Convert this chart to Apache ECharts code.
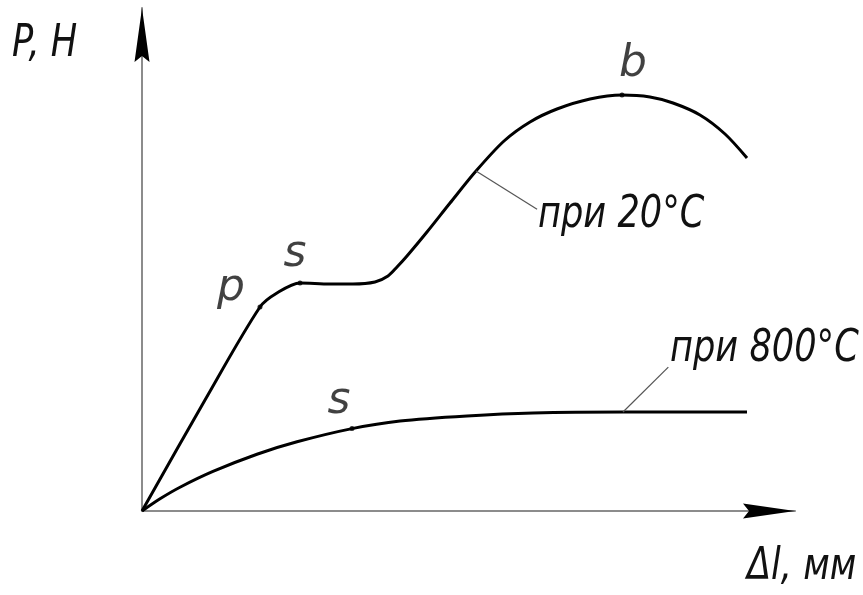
<!DOCTYPE html>
<html>
<head>
<meta charset="utf-8">
<title>P - Δl</title>
<script src="https://cdn.jsdelivr.net/npm/echarts@6/dist/echarts.min.js"></script>
<style>
  html, body { margin: 0; padding: 0; background: #fff; }
  #main { width: 863px; height: 595px; }
</style>
</head>
<body>
<div id="main"></div>
<script>
// удлинение (усл. ед.) и нагрузка (усл. ед.)
var dl20 = [0, 9.65, 18.07, 20.67, 24.2, 28.79, 32.31, 35.68, 37.67, 39.05, 40.58, 43.64, 47.17, 51.15, 55.44, 59.42, 63.55, 68.61, 73.51, 77.79, 81.32, 85.45, 89.28, 92.65];
var p20  = [0, 22.07, 40.56, 43.34, 45.33, 45.13, 45.13, 45.53, 46.72, 48.51, 50.7, 55.47, 61.23, 67.59, 73.56, 77.34, 79.92, 81.91, 82.7, 82.31, 81.11, 78.73, 74.95, 70.18];

var dl800 = [0, 2.76, 5.82, 10.87, 17.61, 23.74, 32.16, 39.51, 49.77, 59.88, 73.66, 92.65];
var p800  = [0, 2.43, 4.73, 7.87, 11.29, 13.76, 16.38, 17.89, 18.89, 19.48, 19.68, 19.68];

// характерные точки: p, s, b (20°C) и s (800°C)
var keyNames = ['p', 's', 'b', 's'];
var keyDl = [18.07, 24.2, 73.51, 32.16];
var keyP  = [40.56, 45.33, 82.7, 16.38];

var FONT = '"DejaVu Sans", sans-serif';

function pairs(xs, ys) {
  var out = [];
  for (var i = 0; i < xs.length; i++) out.push([xs[i], ys[i]]);
  return out;
}

var labelOffsets = [[-29, -18], [-5, -28], [11, -30], [-13, -27]];
var keyData = [];
for (var i = 0; i < keyNames.length; i++) {
  keyData.push({
    name: keyNames[i],
    value: [keyDl[i], keyP[i]],
    label: { offset: labelOffsets[i] }
  });
}

var chart = echarts.init(document.getElementById('main'));

var option = {
  animation: false,
  backgroundColor: '#fff',
  grid: { left: 142, right: 68, top: 8, bottom: 84 },
  xAxis: {
    type: 'value', min: 0, max: 100,
    axisLine: { show: true, lineStyle: { color: '#8c8c8c', width: 2 } },
    axisTick: { show: false }, axisLabel: { show: false }, splitLine: { show: false }
  },
  yAxis: {
    type: 'value', min: 0, max: 100,
    axisLine: { show: true, lineStyle: { color: '#8c8c8c', width: 2 } },
    axisTick: { show: false }, axisLabel: { show: false }, splitLine: { show: false }
  },
  series: [
    {
      name: 'при 20°C', type: 'line', smooth: 0.3, showSymbol: false,
      lineStyle: { color: '#000', width: 3 },
      data: pairs(dl20, p20),
      markLine: {
        silent: true, symbol: 'none', label: { show: false },
        lineStyle: { color: '#555', width: 1.2, type: 'solid' },
        data: [[{ coord: [51.15, 67.59] }, { coord: [60.5, 60.0] }]]
      }
    },
    {
      name: 'при 800°C', type: 'line', smooth: 0.3, showSymbol: false,
      lineStyle: { color: '#000', width: 3 },
      data: pairs(dl800, p800),
      markLine: {
        silent: true, symbol: 'none', label: { show: false },
        lineStyle: { color: '#555', width: 1.2, type: 'solid' },
        data: [[{ coord: [73.66, 19.68] }, { coord: [80.6, 28.6] }]]
      }
    },
    {
      name: 'точки', type: 'scatter', symbolSize: 5,
      itemStyle: { color: '#000' },
      label: {
        show: true, position: 'inside', formatter: '{b}',
        color: '#111', fontSize: 44, fontStyle: 'italic', fontFamily: FONT,
        align: 'center', verticalAlign: 'middle'
      },
      data: keyData
    }
  ]
};
chart.setOption(option);

// стрелки осей и подписи
var xEnd = chart.convertToPixel({ gridIndex: 0 }, [100, 0]);
var yEnd = chart.convertToPixel({ gridIndex: 0 }, [0, 100]);

function txt(s, x, y) {
  return {
    type: 'text', x: x, y: y, z: 10, scaleX: 0.8,
    style: {
      text: s, fill: '#111', textAlign: 'left', textVerticalAlign: 'middle',
      font: 'italic 44px ' + FONT
    }
  };
}

chart.setOption({
  graphic: [
    {
      type: 'polygon', z: 10,
      shape: { points: [[yEnd[0], yEnd[1]], [yEnd[0] + 7.5, yEnd[1] + 54], [yEnd[0], yEnd[1] + 48], [yEnd[0] - 7.5, yEnd[1] + 54]] },
      style: { fill: '#000' }
    },
    {
      type: 'polygon', z: 10,
      shape: { points: [[xEnd[0], xEnd[1]], [xEnd[0] - 52, xEnd[1] - 7.5], [xEnd[0] - 46, xEnd[1]], [xEnd[0] - 52, xEnd[1] + 7.5]] },
      style: { fill: '#000' }
    },
    txt('P, H', 12, 45),
    txt('Δl, мм', 747, 568),
    txt('при 20°C', 538, 216),
    txt('при 800°C', 670, 350)
  ]
});
</script>
</body>
</html>
